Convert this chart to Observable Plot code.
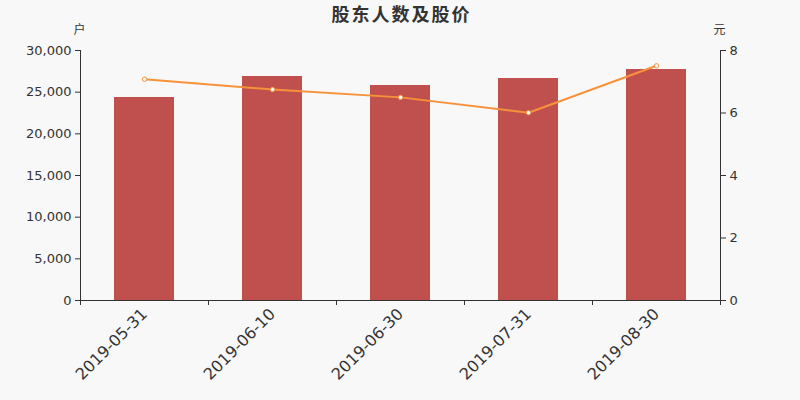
<!DOCTYPE html>
<html>
<head>
<meta charset="utf-8">
<script src="https://cdn.jsdelivr.net/npm/d3@7"></script>
<script src="https://cdn.jsdelivr.net/npm/@observablehq/plot@0.6"></script>
<style>
  html, body { margin: 0; padding: 0; background: #f8f8f8; }
  #chart svg { display: block; background: #f8f8f8; }
</style>
</head>
<body>
<div id="chart"></div>
<script>
const title = "股东人数及股价";
const dates = ["2019-05-31", "2019-06-10", "2019-06-30", "2019-07-31", "2019-08-30"];
const holders = [24360, 26880, 25800, 26640, 27720];
const prices = [7.08, 6.75, 6.50, 6.01, 7.51];
const leftTicks = [0, 5000, 10000, 15000, 20000, 25000, 30000];
const rightTicks = [0, 2, 4, 6, 8];
const leftUnit = "户";
const rightUnit = "元";
const leftMax = 30000;
const rightMax = 8;
const k = leftMax / rightMax;

const rows = dates.map((d, i) => ({date: d, holders: holders[i], price: prices[i], py: prices[i] * k}));

const barColor = "#c0504d";
const lineColor = "#f7923a";
const textColor = "#333333";
const font = "'DejaVu Sans', 'Noto Sans CJK SC', sans-serif";
const cjk = "'Noto Sans CJK SC', sans-serif";

const chart = Plot.plot({
  width: 800,
  height: 400,
  marginTop: 50,
  marginBottom: 100,
  marginLeft: 80,
  marginRight: 80,
  style: {background: "#f8f8f8", fontFamily: font, color: textColor},
  x: {type: "band", domain: dates, paddingInner: 0.53, paddingOuter: 0.265, label: null},
  y: {domain: [0, leftMax], label: null},
  marks: [
    Plot.barY(rows, {x: "date", y: "holders", fill: barColor}),
    Plot.line(rows, {x: "date", y: "py", stroke: lineColor, strokeWidth: 2}),
    Plot.dot(rows, {x: "date", y: "py", r: 2.2, fill: "white", stroke: lineColor, strokeWidth: 1}),
    // axis lines
    Plot.frame({anchor: "left", stroke: textColor, strokeOpacity: 1}),
    Plot.frame({anchor: "right", stroke: textColor, strokeOpacity: 1}),
    Plot.frame({anchor: "bottom", stroke: textColor, strokeOpacity: 1}),
    // left axis
    Plot.axisY(leftTicks, {anchor: "left", tickSize: 5, tickPadding: 4, fontSize: 13, tickFormat: d3.format(","), stroke: textColor, fill: textColor, label: null}),
    // right axis
    Plot.axisY(rightTicks.map(v => v * k), {anchor: "right", tickSize: 5, tickPadding: 4, fontSize: 13, tickFormat: d => String(Math.round(d / k)), stroke: textColor, fill: textColor, label: null}),
    // x labels
    Plot.axisX({anchor: "bottom", tickSize: 0, tickPadding: 11, tickRotate: -45, fontSize: 16, fill: textColor, label: null}),
    // x ticks at band boundaries
    Plot.axisX({anchor: "bottom", tickSize: 5, dx: -64, tickFormat: () => "", stroke: textColor, label: null}),
    Plot.axisX([dates[dates.length - 1]], {anchor: "bottom", tickSize: 5, dx: 64, tickFormat: () => "", stroke: textColor, label: null}),
    // title & units
    Plot.text([title], {frameAnchor: "top", dy: -42, text: d => d, fontSize: 18, fontWeight: "bold", fill: textColor, fontFamily: cjk, className: "title-text"}),
    Plot.text([leftUnit], {frameAnchor: "top-left", dy: -25, dx: -7, text: d => d, fontSize: 12, fill: textColor, fontFamily: cjk}),
    Plot.text([rightUnit], {frameAnchor: "top-right", dy: -25, dx: 5, text: d => d, fontSize: 12, fill: textColor, fontFamily: cjk})
  ]
});
d3.select(chart).selectAll(".title-text text").style("letter-spacing", "2px").attr("dx", 1);
document.getElementById("chart").appendChild(chart);
</script>
</body>
</html>
